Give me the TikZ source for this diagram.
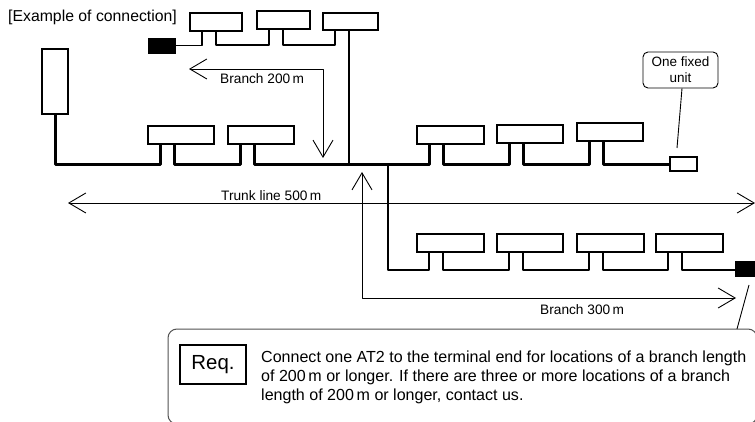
\documentclass[tikz,border=0pt]{standalone}
\usepackage{fontspec}
\setmainfont{Liberation Sans}
\usetikzlibrary{arrows.meta}
\tikzset{
  x=1pt,y=-1pt,
  unitbox/.style={draw=black,line width=1.5pt,fill=white,inner sep=0pt},
  blackbox/.style={draw=black,fill=black,inner sep=0pt},
  trunkwire/.style={line width=3pt,line join=round},
  branchwire/.style={line width=1.3pt,line join=round},
  dimboth/.style={line width=0.9pt,{Straight Barb[length=17pt,width=20pt,line width=0.9pt]}-{Straight Barb[length=17pt,width=20pt,line width=0.9pt]}},
  leader/.style={line width=0.9pt},
  lbl/.style={font=\fontsize{13.7}{15}\selectfont,inner sep=0pt},
}
% name, x1, y1, x2, y2, style: box plus its two stub points
\newcommand{\unitat}[6][unitbox]{%
  \node[#1,minimum width=#4-#2 pt,minimum height=#5-#3 pt] (#6) at ({(#2+#4)/2},{(#3+#5)/2}) {};
  \coordinate (#6l) at ({#2+12},#5);
  \coordinate (#6r) at ({#2+26},#5);
}
\begin{document}
\begin{tikzpicture}
\clip (0,0) rectangle (755,422);
\fill[white] (0,0) rectangle (755,422);

\coordinate (ty) at (0,165);
\coordinate (ty2) at (0,45);
\coordinate (ty3) at (0,270);

\unitat{190}{13}{242}{31}{a}
\unitat{257}{11}{310}{29}{b}
\unitat{323}{13}{378}{30}{c}
\unitat[blackbox]{148}{38}{175}{53}{blk}
\unitat{42}{49}{68}{114}{tall}
\unitat{148}{126}{214}{144}{d}
\unitat{228}{126}{294}{144}{e}
\unitat{417}{126}{484}{144}{f}
\unitat{497}{125}{563}{143}{g}
\unitat{577}{123}{643}{141}{h}
\unitat{670}{157}{697}{171}{small}
\unitat{417}{234}{484}{252}{k}
\unitat{497}{234}{563}{252}{m}
\unitat{577}{234}{644}{252}{n}
\unitat{656}{234}{723}{252}{p}
\unitat[blackbox]{735}{261}{755}{276}{blk2}

% trunk
\draw[trunkwire] (tall.south) -- (tall.south |- ty) -| (dl);
\draw[trunkwire] (dr) -- (dr |- ty) -| (el);
\draw[trunkwire] (er) -- (er |- ty) -| (fl);
\draw[trunkwire] (fr) -- (fr |- ty) -| (gl);
\draw[trunkwire] (gr) -- (gr |- ty) -| (hl);
\draw[trunkwire] (hr) -- (hr |- ty) -- (small.west |- ty);

% upper branch
\draw[branchwire] (blk.east) -| (al);
\draw[branchwire] (ar) -- (ar |- ty2) -| (bl);
\draw[branchwire] (br) -- (br |- ty2) -| (cl);
\coordinate (cv) at (349,30);
\draw[branchwire] (cv) -- (cv |- ty);

% lower branch
\coordinate (lv) at (388,165);
\draw[branchwire] (lv) -- (lv |- ty3) -| (kl);
\draw[branchwire] (kr) -- (kr |- ty3) -| (ml);
\draw[branchwire] (mr) -- (mr |- ty3) -| (nl);
\draw[branchwire] (nr) -- (nr |- ty3) -| (pl);
\draw[branchwire] (pr) -- (pr |- ty3) -- (blk2.west |- ty3);

% dimension arrows
\coordinate (b2a) at (189,69);
\coordinate (b2b) at (323,69);
\coordinate (b2c) at (323,158);
\draw[dimboth,line join=round] (b2a) -- (b2b) -- (b2c);
\coordinate (ta) at (68,203);
\coordinate (tb) at (755,203);
\draw[dimboth] (ta) -- (tb);
\coordinate (b3a) at (362,172);
\coordinate (b3b) at (362,298);
\coordinate (b3c) at (736,298);
\draw[dimboth,line join=round] (b3a) -- (b3b) -- (b3c);

% labels
\node[inner sep=0pt,anchor=west,font=\fontsize{15.8}{18}\selectfont] (ex) at (8,17) {[Example of connection]};
\node[lbl,anchor=west] (br200) at (220,79) {Branch 200\,m};
\node[lbl,anchor=west] (tl) at (221,196) {Trunk line 500\,m};
\node[lbl,anchor=west] (br300) at (540,310) {Branch 300\,m};

% callout
\node[draw=black,line width=0.9pt,rounded corners=5pt,fill=white,minimum width=75pt,minimum height=36pt,inner sep=0pt,align=center,font=\fontsize{13.5}{16}\selectfont] (fix) at (680.5,70) {One fixed\\unit};
\coordinate (fixend) at (677,148);
\draw[leader] ([xshift=1.5pt]fix.south) -- (fixend);

% requirement box
\coordinate (oa) at (168,329);
\coordinate (ob) at (757,424);
\draw[draw=black!68,line width=1pt,rounded corners=9pt] (oa) rectangle (ob);
\coordinate (lead1) at (749,285);
\coordinate (lead2) at (737,329);
\draw[leader] (lead1) -- (lead2);
\node[draw=black,line width=1.4pt,minimum width=66pt,minimum height=39pt,inner sep=0pt,font=\fontsize{20.4}{22}\selectfont] (req) at (213,364.5) {Req.};
\node[anchor=north west,inner sep=0pt,align=left,font=\fontsize{16.05}{18.8}\selectfont] (note) at (261,351) {Connect one AT2 to the terminal end for locations of a branch length\\of 200\,m or longer. If there are three or more locations of a branch\\length of 200\,m or longer, contact us.};
\end{tikzpicture}
\end{document}
